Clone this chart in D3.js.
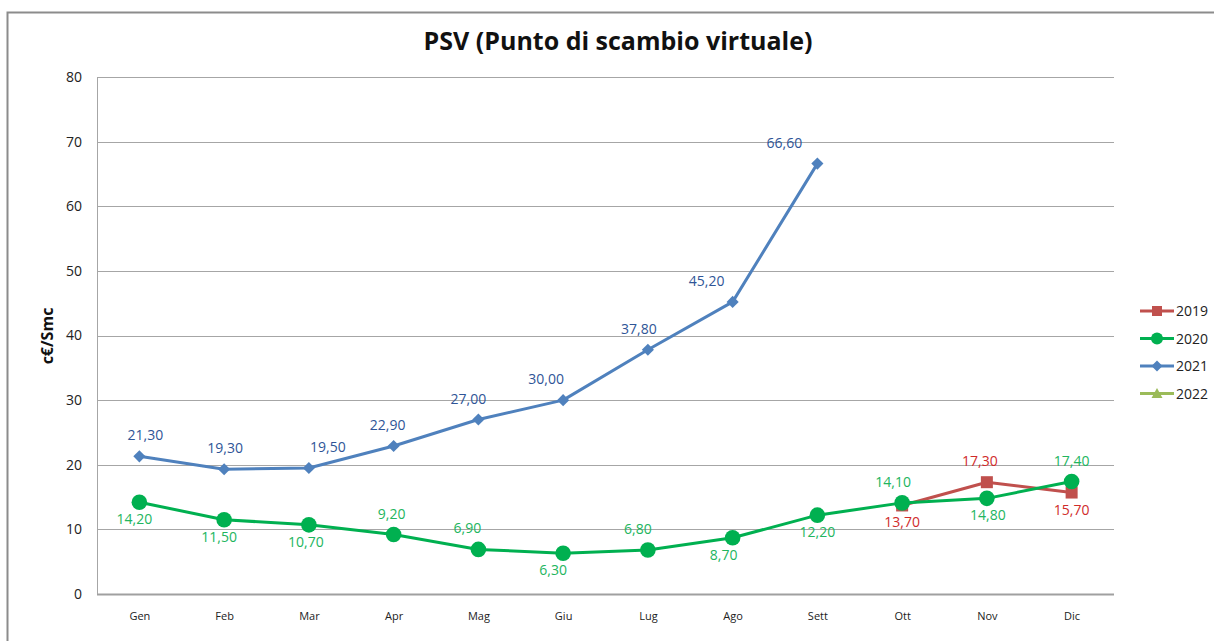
<!DOCTYPE html>
<html lang="it">
<head>
<meta charset="UTF-8" />
<title>PSV (Punto di scambio virtuale)</title>
<script src="https://cdn.jsdelivr.net/npm/d3@7"></script>
<style>
  html, body { margin: 0; padding: 0; background: #fff; }
  svg { display: block; font-family: "Open Sans", "Noto Sans", sans-serif; }
</style>
</head>
<body>
<div id="chart"></div>
<script>
// months on the x axis
const months = ['Gen','Feb','Mar','Apr','Mag','Giu','Lug','Ago','Sett','Ott','Nov','Dic'];
const yTicks = [0,10,20,30,40,50,60,70,80];

// values in c€/Smc (null = no data)
const v2019 = [null,null,null,null,null,null,null,null,null,13.7,17.3,15.7];
const v2020 = [14.2,11.5,10.7,9.2,6.9,6.3,6.8,8.7,12.2,14.1,14.8,17.4];
const v2021 = [21.3,19.3,19.5,22.9,27.0,30.0,37.8,45.2,66.6,null,null,null];
const v2022 = [null,null,null,null,null,null,null,null,null,null,null,null];

// where the data labels sit: 1 = above, -1 = below
const side2019 = [0,0,0,0,0,0,0,0,0,-1,1,-1];
const side2020 = [-1,-1,-1,1,1,-1,1,-1,-1,1,-1,1];
const side2021 = [1,1,1,1,1,1,1,1,1,0,0,0];
// small horizontal nudges of the labels, as in the original sheet
const nudge2019 = [0,0,0,0,0,0,0,0,0,0,-7,0];
const nudge2020 = [-5,-5,-3,-2,-11,-10,-10,-9,0,-9,1,0];
const nudge2021 = [6,1,19,-6,-10,-17,-9,-26,-33,0,0,0];

const series = [
  { name: '2019', values: v2019, side: side2019, nudge: nudge2019, color: '#C0504D', label: '#D02B2B', marker: 'square' },
  { name: '2020', values: v2020, side: side2020, nudge: nudge2020, color: '#00B050', label: '#22B55E', marker: 'circle' },
  { name: '2021', values: v2021, side: side2021, nudge: nudge2021, color: '#4F81BD', label: '#2F5597', marker: 'diamond' },
  { name: '2022', values: v2022, side: [], nudge: [], color: '#9BBB59', label: '#9BBB59', marker: 'triangle' }
];

const W = 1216, H = 641;
const plot = { left: 97, right: 1114, top: 77, bottom: 594 };

const svg = d3.select('#chart').append('svg')
  .attr('width', W).attr('height', H);

// outer chart frame
svg.append('path')
  .attr('d', `M7.5,${H} V12.5 H${W - 2}`)
  .attr('fill', 'none').attr('stroke', '#8c8c8c').attr('stroke-width', 2);

const x = d3.scalePoint().domain(months).range([plot.left, plot.right]).padding(0.5);
const y = d3.scaleLinear().domain([0, 80]).range([plot.bottom, plot.top]);

// gridlines
svg.append('g')
  .selectAll('line')
  .data(yTicks)
  .join('line')
    .attr('x1', plot.left).attr('x2', plot.right)
    .attr('y1', d => Math.round(y(d)) + 0.5).attr('y2', d => Math.round(y(d)) + 0.5)
    .attr('stroke', d => d === 0 ? '#a0a0a0' : '#a6a6a6')
    .attr('stroke-width', d => d === 0 ? 2 : 1);

// left axis line
svg.append('line')
  .attr('x1', plot.left + 0.5).attr('x2', plot.left + 0.5)
  .attr('y1', plot.top).attr('y2', plot.bottom)
  .attr('stroke', '#a6a6a6');

// y tick labels
const yAxis = d3.axisLeft(y).tickValues(yTicks).tickSize(0).tickPadding(15);
const gy = svg.append('g').attr('transform', `translate(${plot.left},0)`).call(yAxis);
gy.select('.domain').remove();
gy.selectAll('text').attr('font-size', 14).attr('fill', '#222')
  .attr('font-family', '"Open Sans", sans-serif');

// x tick labels
const xAxis = d3.axisBottom(x).tickSize(0).tickPadding(18);
const gx = svg.append('g').attr('transform', `translate(0,${plot.bottom})`).call(xAxis);
gx.select('.domain').remove();
gx.selectAll('text').attr('font-size', 11).attr('fill', '#222')
  .attr('font-family', '"Open Sans", sans-serif');

// title
svg.append('text')
  .attr('x', 618).attr('y', 50)
  .attr('text-anchor', 'middle')
  .attr('font-size', 25).attr('font-weight', 'bold').attr('fill', '#111')
  .text('PSV (Punto di scambio virtuale)');

// y axis title
svg.append('text')
  .attr('transform', 'translate(53,336) rotate(-90)')
  .attr('text-anchor', 'middle')
  .attr('font-size', 16).attr('font-weight', 'bold').attr('fill', '#111')
  .text('c€/Smc');

const fmt = v => v.toFixed(2).replace('.', ',');

function drawMarker(g, type, cx, cy, color, s) {
  if (type === 'circle') {
    g.append('circle').attr('cx', cx).attr('cy', cy).attr('r', s * 0.6).attr('fill', color);
  } else if (type === 'square') {
    g.append('rect').attr('x', cx - s / 2).attr('y', cy - s / 2)
      .attr('width', s).attr('height', s).attr('fill', color);
  } else if (type === 'diamond') {
    const r = s * 0.55;
    g.append('path').attr('d', `M${cx},${cy - r}L${cx + r},${cy}L${cx},${cy + r}L${cx - r},${cy}Z`).attr('fill', color);
  } else {
    const r = s * 0.55;
    g.append('path').attr('d', `M${cx},${cy - r}L${cx + r},${cy + r * 0.8}L${cx - r},${cy + r * 0.8}Z`).attr('fill', color);
  }
}

const line = d3.line()
  .defined(d => d.v !== null)
  .x(d => x(d.m)).y(d => y(d.v));

// draw 2021 first, then 2019, then 2020 on top
const order = ['2021', '2019', '2020', '2022'];
order.forEach(name => {
  const s = series.find(d => d.name === name);
  const pts = months.map((m, i) => ({ m, v: s.values[i], i }));
  const g = svg.append('g');
  g.append('path')
    .datum(pts)
    .attr('d', line)
    .attr('fill', 'none')
    .attr('stroke', s.color)
    .attr('stroke-width', 3)
    .attr('stroke-linejoin', 'round');
  pts.filter(p => p.v !== null).forEach(p => {
    const sz = s.marker === 'circle' ? 13 : (s.marker === 'square' ? 12 : 11);
    drawMarker(g, s.marker, x(p.m), y(p.v), s.color, sz);
  });
});

// data labels
series.forEach(s => {
  months.forEach((m, i) => {
    const v = s.values[i];
    if (v === null) return;
    const above = s.side[i] > 0;
    svg.append('text')
      .attr('x', x(m) + s.nudge[i])
      .attr('y', y(v) + (above ? -16 : 22))
      .attr('text-anchor', 'middle')
      .attr('font-size', 14)
      .attr('fill', s.label)
      .text(fmt(v));
  });
});

// legend
const lg = svg.append('g').attr('transform', 'translate(1140,311)');
series.forEach((s, i) => {
  const row = lg.append('g').attr('transform', `translate(0,${i * 27.5})`);
  row.append('line').attr('x1', 0).attr('x2', 34).attr('y1', 0).attr('y2', 0)
    .attr('stroke', s.color).attr('stroke-width', 3);
  drawMarker(row, s.marker, 17, 0, s.color, 10);
  row.append('text').attr('x', 36).attr('y', 5)
    .attr('font-size', 14).attr('fill', '#222')
    .text(s.name);
});
</script>
</body>
</html>
